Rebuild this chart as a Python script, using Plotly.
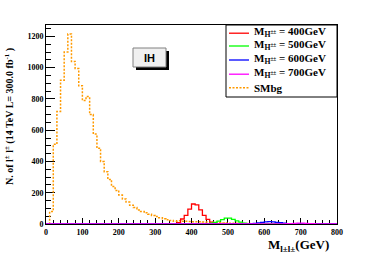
import plotly.graph_objects as go

# ---------------- data (10 GeV bins, 0-800 GeV) ----------------
bin_edges = list(range(0, 810, 10))

smbg = [0, 80, 510, 720, 920, 1100, 1215, 1040, 995, 885,
        790, 815, 700, 575, 485, 400, 335, 285, 240, 215,
        185, 160, 140, 120, 105, 90, 80, 72, 62, 55,
        48, 40, 34, 27, 22, 18, 20, 18, 17, 16,
        15, 14, 14, 13, 12, 11, 9, 8, 7, 6,
        5, 5, 4, 4, 3, 3, 2, 2, 2, 2,
        1, 1, 1, 1, 1, 1, 1, 0, 0, 0,
        0, 0, 0, 0, 0, 0, 0, 0, 0, 0]

sig400 = [0] * 35 + [3, 8, 32, 55, 95, 128, 122, 90, 55, 30, 12, 3] + [0] * 33
sig500 = [0] * 44 + [2, 5, 10, 18, 28, 37, 38, 30, 20, 12, 6, 3] + [0] * 24
sig600 = [0] * 56 + [2, 4, 7, 10, 13, 15, 14, 11, 8, 5, 3, 1] + [0] * 12
sig700 = [0] * 65 + [1, 2, 3, 4, 5, 5, 4, 3, 2, 1] + [0] * 5

series_names = ["M<sub>H<sup>±±</sup></sub> = 400GeV", "M<sub>H<sup>±±</sup></sub> = 500GeV",
                "M<sub>H<sup>±±</sup></sub> = 600GeV", "M<sub>H<sup>±±</sup></sub> = 700GeV", "SMbg"]
series_colors = ["#ff0000", "#00ff00", "#0000ff", "#ff00ff", "#ff9a00"]

x_ticks = [0, 100, 200, 300, 400, 500, 600, 700, 800]
y_ticks = [0, 200, 400, 600, 800, 1000, 1200]

# ---------------- figure ----------------
W, H = 374, 255
L, R, T, B = 46, 337, 25, 224   # plot area in pixels
def px(x): return (x - L) / (R - L)
def py(y): return (B - y) / (B - T)

SERIF = "Liberation Serif, Times New Roman, serif"

fig = go.Figure()

def step_trace(vals, color, dash="solid", width=1.3):
    return go.Scatter(x=bin_edges, y=vals + [vals[-1]], mode="lines",
                      line=dict(shape="hv", color=color, width=width, dash=dash),
                      showlegend=False, hoverinfo="skip")

fig.add_trace(step_trace(smbg, series_colors[4], dash="2px,1.5px", width=1.5))
fig.add_trace(step_trace(sig400, series_colors[0]))
fig.add_trace(step_trace(sig500, series_colors[1]))
fig.add_trace(step_trace(sig600, series_colors[2]))
fig.add_trace(step_trace(sig700, series_colors[3]))

axis_common = dict(showline=True, linecolor="black", linewidth=1, mirror=True,
                   ticks="inside", tickcolor="black", showgrid=False, zeroline=False,
                   tickfont=dict(family=SERIF, size=8, color="black", weight="bold"),
                   layer="below traces")

fig.update_xaxes(range=[0, 800], tickvals=x_ticks, ticklen=6, tickwidth=1,
                 minor=dict(dtick=20, ticklen=4, tickcolor="black", ticks="inside"),
                 **axis_common)
fig.update_yaxes(range=[0, 1273], tickvals=y_ticks, ticklen=9, tickwidth=1,
                 minor=dict(dtick=50, ticklen=5, tickcolor="black", ticks="inside"),
                 **axis_common)

shapes = []
annotations = []

# IH label box with shadow
shapes.append(dict(type="rect", xref="paper", yref="paper",
                   x0=px(136), x1=px(169), y0=py(70), y1=py(51),
                   fillcolor="black", line=dict(width=0)))
shapes.append(dict(type="rect", xref="paper", yref="paper",
                   x0=px(133), x1=px(166), y0=py(67), y1=py(48),
                   fillcolor="#f0f0f0", line=dict(color="#808080", width=1)))
annotations.append(dict(xref="paper", yref="paper", x=px(149.5), y=py(57.5),
                        text="<b>IH</b>", showarrow=False, xanchor="center", yanchor="middle",
                        font=dict(family="Liberation Sans, Arial, sans-serif", size=11, color="black")))

# Legend box
shapes.append(dict(type="rect", xref="paper", yref="paper",
                   x0=px(226), x1=px(337), y0=py(97), y1=py(25),
                   fillcolor="white", line=dict(color="black", width=1)))
rows = [31.7, 44.5, 58.5, 72.7, 87.7]
for i, (name, col) in enumerate(zip(series_names, series_colors)):
    yy = py(rows[i] + (0 if i == 4 else 1.5))
    shapes.append(dict(type="line", xref="paper", yref="paper",
                       x0=px(229), x1=px(249), y0=yy, y1=yy,
                       line=dict(color=col, width=1.5 if i == 4 else 1.3,
                                 dash="2px,1.5px" if i == 4 else "solid")))
    annotations.append(dict(xref="paper", yref="paper", x=px(252), y=py(rows[i]),
                            text="<b>" + name + "</b>", showarrow=False,
                            xanchor="left", yanchor="middle",
                            font=dict(family=SERIF, size=11, color="black")))

# Axis titles
annotations.append(dict(xref="paper", yref="paper", x=px(331), y=py(235),
                        text="<b>M<sub>l±l±</sub>(GeV)</b>",
                        showarrow=False, xanchor="right", yanchor="top",
                        font=dict(family=SERIF, size=13, color="black")))
annotations.append(dict(xref="paper", yref="paper", x=px(9), y=py(117),
                        text="<b>N. of l<sup>±</sup> l<sup>±</sup> (14 TeV L= 300.0 fb<sup>-1</sup> )</b>",
                        textangle=-90, showarrow=False, xanchor="center", yanchor="middle",
                        font=dict(family=SERIF, size=10, color="black")))

fig.update_layout(width=W, height=H, margin=dict(l=L, r=W - R, t=T, b=H - B),
                  paper_bgcolor="white", plot_bgcolor="white",
                  shapes=shapes, annotations=annotations, showlegend=False)

fig.write_html("out.html", config={"displayModeBar": False},
               post_script="document.body.style.margin='0';document.body.style.overflow='hidden';")
